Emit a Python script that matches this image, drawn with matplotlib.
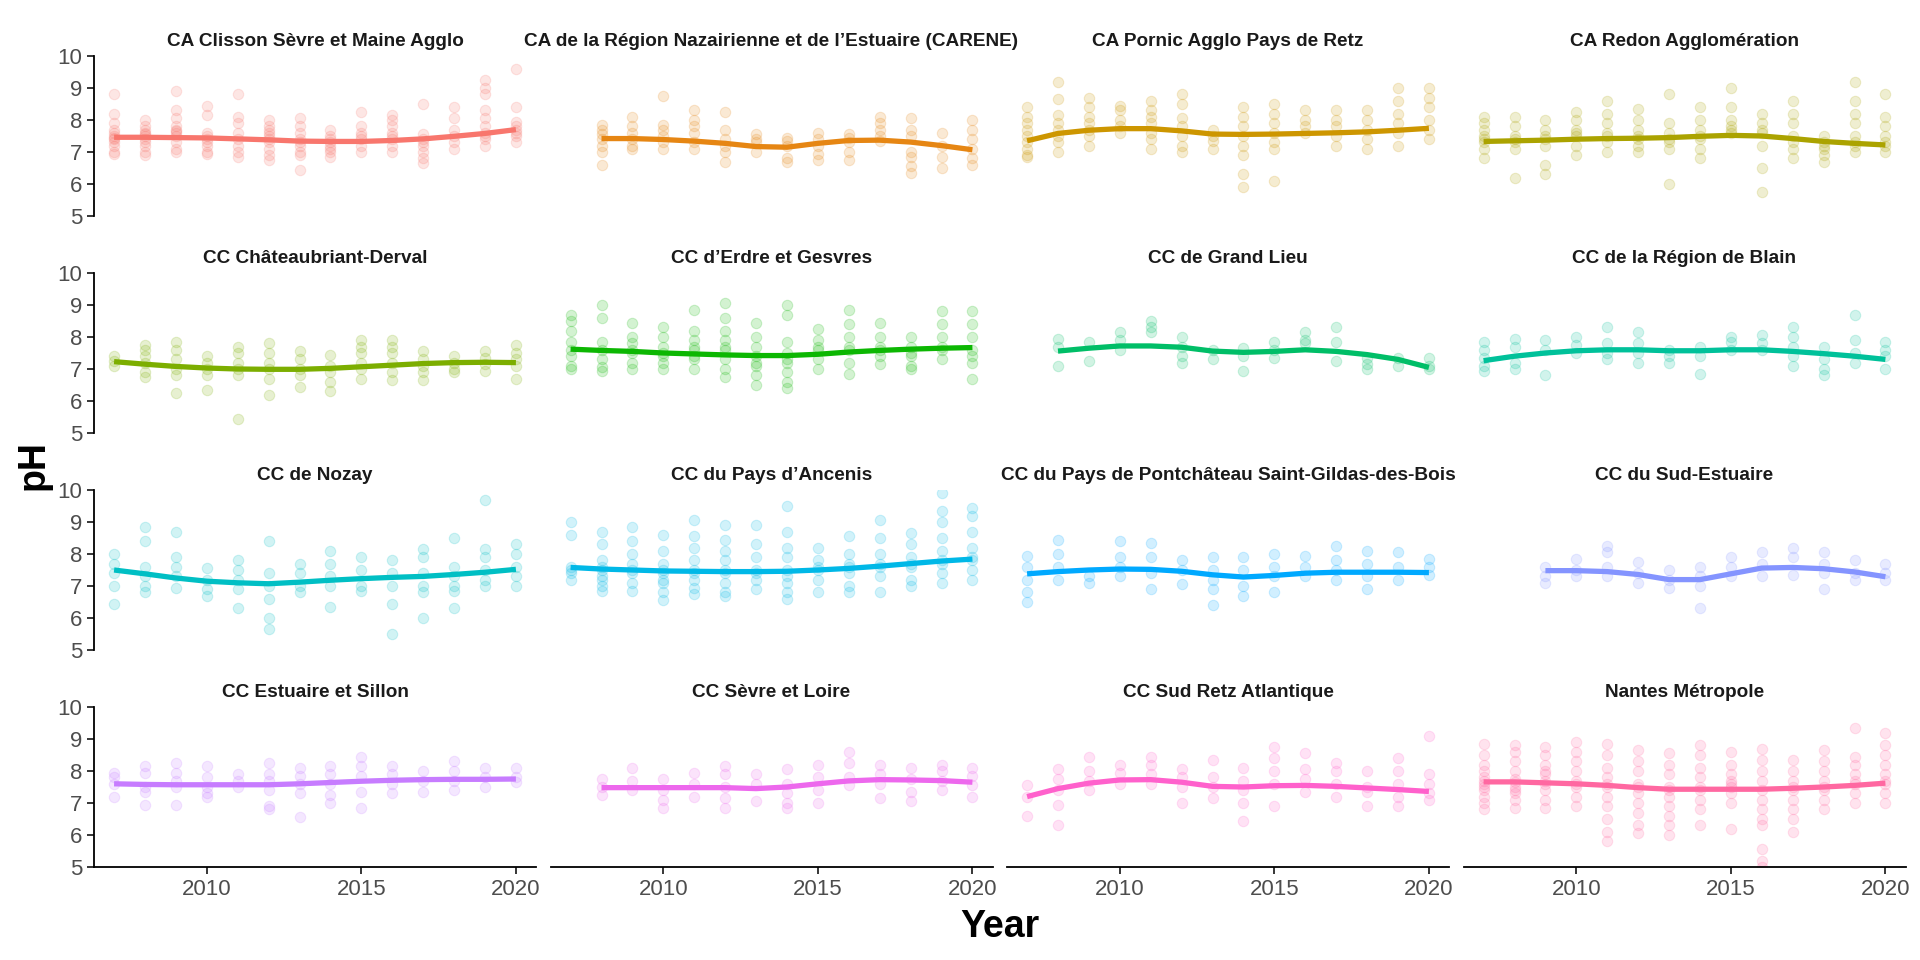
import numpy as np
import matplotlib.pyplot as plt

plt.rcParams['font.family'] = ['Liberation Sans', 'DejaVu Sans']

years = list(range(2007, 2021))
nan = np.nan

names = [
    'CA Clisson Sèvre et Maine Agglo',
    'CA de la Région Nazairienne et de l’Estuaire (CARENE)',
    'CA Pornic Agglo Pays de Retz',
    'CA Redon Agglomération',
    'CC Châteaubriant-Derval',
    'CC d’Erdre et Gesvres',
    'CC de Grand Lieu',
    'CC de la Région de Blain',
    'CC de Nozay',
    'CC du Pays d’Ancenis',
    'CC du Pays de Pontchâteau Saint-Gildas-des-Bois',
    'CC du Sud-Estuaire',
    'CC Estuaire et Sillon',
    'CC Sèvre et Loire',
    'CC Sud Retz Atlantique',
    'Nantes Métropole',
]

# individual pH measurements, one list per year 2007..2020
ph_clisson = [
    [8.8, 8.2, 7.9, 7.7, 7.6, 7.5, 7.45, 7.4, 7.3, 7.2, 7.0, 6.95],
    [8.0, 7.8, 7.7, 7.6, 7.55, 7.5, 7.4, 7.3, 7.2, 7.0, 6.9],
    [8.9, 8.3, 8.05, 7.8, 7.7, 7.65, 7.6, 7.5, 7.3, 7.1, 7.0],
    [8.45, 8.15, 7.6, 7.5, 7.4, 7.3, 7.2, 7.0, 6.95],
    [8.8, 8.1, 7.9, 7.6, 7.4, 7.2, 7.0, 6.85],
    [8.0, 7.8, 7.7, 7.6, 7.5, 7.4, 7.3, 7.1, 6.9, 6.75],
    [8.05, 7.8, 7.6, 7.4, 7.3, 7.2, 7.0, 6.9, 6.45],
    [7.7, 7.5, 7.4, 7.3, 7.2, 7.1, 7.0, 6.85],
    [8.25, 7.8, 7.6, 7.5, 7.4, 7.2, 7.0],
    [8.15, 8.0, 7.8, 7.6, 7.5, 7.4, 7.2, 7.0],
    [8.5, 7.55, 7.4, 7.3, 7.2, 7.0, 6.8, 6.65],
    [8.4, 8.05, 7.7, 7.5, 7.3, 7.1],
    [9.25, 9.0, 8.8, 8.3, 8.05, 7.8, 7.6, 7.5, 7.4, 7.2],
    [9.6, 8.4, 7.95, 7.8, 7.7, 7.6, 7.5, 7.3],
]
ph_carene = [
    [],
    [7.85, 7.7, 7.55, 7.4, 7.2, 7.0, 6.6],
    [8.1, 7.8, 7.6, 7.4, 7.2, 7.1],
    [8.75, 7.85, 7.7, 7.5, 7.3, 7.1],
    [8.3, 8.0, 7.8, 7.6, 7.3, 7.1],
    [8.25, 7.7, 7.4, 7.2, 7.0, 6.7],
    [7.55, 7.4, 7.3, 7.0],
    [7.45, 7.35, 7.2, 6.8, 6.7],
    [7.6, 7.4, 7.2, 6.95, 6.75],
    [7.55, 7.45, 7.3, 7.0, 6.75],
    [8.1, 7.9, 7.7, 7.5, 7.35],
    [8.05, 7.7, 7.5, 7.0, 6.85, 6.55, 6.35],
    [7.6, 7.2, 6.85, 6.5],
    [8.0, 7.7, 7.4, 7.1, 6.8, 6.6],
]
ph_pornic = [
    [8.4, 8.1, 7.9, 7.7, 7.5, 7.3, 7.1, 6.9, 6.85],
    [9.2, 8.65, 8.15, 7.9, 7.7, 7.5, 7.3, 7.0],
    [8.7, 8.4, 8.1, 7.9, 7.7, 7.5, 7.2],
    [8.45, 8.3, 8.0, 7.8, 7.6],
    [8.6, 8.3, 8.1, 7.9, 7.6, 7.4, 7.1],
    [8.8, 8.5, 8.05, 7.8, 7.5, 7.2, 7.0],
    [7.7, 7.5, 7.35, 7.1],
    [8.4, 8.1, 7.8, 7.5, 7.2, 6.9, 6.3, 5.9],
    [8.5, 8.2, 7.9, 7.6, 7.3, 7.1, 6.1],
    [8.3, 8.0, 7.8, 7.6],
    [8.3, 8.0, 7.8, 7.5, 7.2],
    [8.3, 8.0, 7.7, 7.4, 7.1],
    [9.0, 8.6, 8.2, 7.9, 7.6, 7.2],
    [9.0, 8.7, 8.4, 8.0, 7.7, 7.4],
]
ph_redon = [
    [8.1, 7.9, 7.7, 7.5, 7.4, 7.3, 7.1, 6.8],
    [8.1, 7.8, 7.5, 7.4, 7.3, 7.1, 6.2],
    [8.0, 7.7, 7.5, 7.4, 7.2, 6.6, 6.3],
    [8.25, 8.0, 7.7, 7.6, 7.5, 7.2, 6.9],
    [8.6, 8.2, 7.9, 7.6, 7.5, 7.3, 7.0],
    [8.35, 8.0, 7.7, 7.5, 7.4, 7.2, 7.0],
    [8.8, 7.9, 7.6, 7.4, 7.3, 7.1, 6.0],
    [8.4, 8.0, 7.7, 7.5, 7.4, 7.1, 6.8],
    [9.0, 8.4, 8.0, 7.8, 7.7, 7.6],
    [8.2, 7.9, 7.7, 7.6, 7.2, 6.5, 5.75],
    [8.6, 8.2, 7.9, 7.5, 7.3, 7.1, 6.8],
    [7.5, 7.3, 7.2, 7.1, 6.9, 6.7],
    [9.2, 8.6, 8.2, 7.9, 7.5, 7.3, 7.2, 7.0],
    [8.8, 8.1, 7.8, 7.5, 7.3, 7.2, 7.0],
]
ph_chateaubriant = [
    [7.4, 7.25, 7.1],
    [7.75, 7.6, 7.4, 7.2, 6.9, 6.75],
    [7.85, 7.6, 7.3, 7.0, 6.8, 6.25],
    [7.4, 7.2, 7.0, 6.8, 6.35],
    [7.7, 7.5, 7.2, 7.0, 6.8, 5.45],
    [7.8, 7.5, 7.2, 7.0, 6.7, 6.2],
    [7.55, 7.3, 7.0, 6.8, 6.45],
    [7.45, 7.1, 6.9, 6.6, 6.3],
    [7.9, 7.7, 7.5, 7.2, 7.0, 6.7],
    [7.9, 7.7, 7.5, 7.2, 6.9, 6.65],
    [7.55, 7.3, 7.1, 6.9, 6.65],
    [7.4, 7.2, 7.0, 6.9],
    [7.55, 7.35, 7.15, 6.95],
    [7.75, 7.5, 7.3, 7.1, 6.7],
]
ph_erdre = [
    [8.7, 8.5, 8.2, 7.85, 7.6, 7.4, 7.1, 7.0],
    [9.0, 8.6, 7.85, 7.6, 7.3, 7.05, 6.95],
    [8.45, 8.0, 7.8, 7.6, 7.5, 7.2, 7.0],
    [8.3, 8.0, 7.7, 7.5, 7.4, 7.2, 7.0],
    [8.85, 8.2, 7.9, 7.7, 7.6, 7.4, 7.3, 7.0],
    [9.05, 8.6, 8.2, 7.9, 7.7, 7.6, 7.3, 7.0, 6.75],
    [8.45, 8.0, 7.7, 7.4, 7.2, 7.1, 6.8, 6.5],
    [9.0, 8.7, 7.85, 7.5, 7.3, 7.2, 6.9, 6.6, 6.4],
    [8.25, 7.9, 7.7, 7.6, 7.3, 7.0],
    [8.85, 8.4, 8.0, 7.7, 7.6, 7.2, 6.85],
    [8.45, 8.0, 7.7, 7.6, 7.4, 7.15],
    [8.0, 7.7, 7.5, 7.4, 7.1, 7.0],
    [8.8, 8.4, 8.0, 7.7, 7.6, 7.3],
    [8.8, 8.4, 8.0, 7.6, 7.4, 7.2, 6.7],
]
ph_grandlieu = [
    [],
    [7.95, 7.7, 7.1],
    [7.85, 7.25],
    [8.15, 7.9, 7.6],
    [8.5, 8.3, 8.15],
    [8.0, 7.7, 7.4, 7.2],
    [7.6, 7.3],
    [7.65, 7.4, 6.95],
    [7.85, 7.6, 7.35],
    [8.15, 7.9, 7.8],
    [8.3, 7.85, 7.25],
    [7.35, 7.15, 7.0],
    [7.35, 7.1],
    [7.35, 7.1, 7.0],
]
ph_blain = [
    [7.85, 7.6, 7.35, 7.1, 6.95],
    [7.95, 7.7, 7.2, 7.0],
    [7.9, 7.6, 6.8],
    [8.0, 7.75, 7.5],
    [8.3, 7.8, 7.5, 7.3],
    [8.15, 7.8, 7.5, 7.2],
    [7.6, 7.4, 7.2],
    [7.7, 7.4, 6.85],
    [8.0, 7.85, 7.6],
    [8.05, 7.8, 7.6],
    [8.3, 8.0, 7.7, 7.4, 7.1],
    [7.7, 7.3, 7.0, 6.8],
    [8.7, 7.9, 7.5, 7.2],
    [7.85, 7.6, 7.4, 7.0],
]
ph_nozay = [
    [8.0, 7.7, 7.4, 7.0, 6.45],
    [8.85, 8.4, 7.6, 7.3, 7.0, 6.8],
    [8.7, 7.9, 7.6, 7.3, 6.95],
    [7.55, 7.2, 6.9, 6.7],
    [7.8, 7.5, 7.2, 6.9, 6.3],
    [8.4, 7.4, 7.0, 6.6, 6.0, 5.65],
    [7.7, 7.4, 7.0, 6.8],
    [8.1, 7.7, 7.3, 7.0, 6.35],
    [7.9, 7.5, 7.0, 6.85],
    [7.8, 7.4, 7.0, 6.45, 5.5],
    [8.15, 7.9, 7.4, 7.0, 6.8, 6.0],
    [8.5, 7.6, 7.3, 7.0, 6.85, 6.3],
    [9.7, 8.15, 7.9, 7.5, 7.2, 7.0],
    [8.3, 8.0, 7.6, 7.3, 7.0],
]
ph_ancenis = [
    [9.0, 8.6, 7.6, 7.5, 7.4, 7.2],
    [8.7, 8.3, 7.8, 7.6, 7.5, 7.3, 7.2, 7.0, 6.85],
    [8.85, 8.4, 8.0, 7.7, 7.5, 7.4, 7.1, 6.85],
    [8.6, 8.1, 7.7, 7.5, 7.4, 7.2, 7.1, 6.8, 6.55],
    [9.05, 8.55, 8.2, 7.8, 7.5, 7.4, 7.2, 6.95, 6.75],
    [8.9, 8.45, 8.1, 7.8, 7.5, 7.4, 7.1, 6.8, 6.7],
    [8.9, 8.3, 7.9, 7.5, 7.4, 7.2, 6.9],
    [9.5, 8.7, 8.2, 7.9, 7.5, 7.3, 7.1, 6.8, 6.6],
    [8.2, 7.8, 7.6, 7.5, 7.2, 6.8],
    [8.55, 8.0, 7.7, 7.6, 7.4, 7.0, 6.8],
    [9.05, 8.5, 8.0, 7.7, 7.6, 7.3, 6.8],
    [8.65, 8.3, 7.9, 7.7, 7.6, 7.2, 7.0],
    [9.9, 9.35, 9.0, 8.5, 8.1, 7.8, 7.7, 7.4, 7.1],
    [9.45, 9.2, 8.7, 8.2, 7.9, 7.8, 7.5, 7.2],
]
ph_pontchateau = [
    [7.95, 7.6, 7.2, 6.8, 6.5],
    [8.45, 8.0, 7.6, 7.2],
    [7.3, 7.1],
    [8.4, 7.9, 7.6, 7.3],
    [8.35, 7.9, 7.4, 6.9],
    [7.8, 7.5, 7.05],
    [7.9, 7.5, 7.2, 6.9, 6.4],
    [7.9, 7.5, 7.0, 6.7],
    [8.0, 7.6, 7.3, 6.8],
    [7.95, 7.6, 7.3],
    [8.25, 7.8, 7.5, 7.2],
    [8.1, 7.7, 7.3, 6.9],
    [8.05, 7.6, 7.2],
    [7.85, 7.6, 7.35],
]
ph_sudestuaire = [
    [],
    [],
    [7.6, 7.3, 7.1],
    [7.85, 7.5, 7.3],
    [8.25, 8.05, 7.6, 7.3],
    [7.75, 7.4, 7.1],
    [7.5, 7.2, 6.95],
    [7.6, 7.3, 7.0, 6.3],
    [7.9, 7.6, 7.3],
    [8.05, 7.7, 7.3],
    [8.2, 7.9, 7.35],
    [8.05, 7.7, 7.4, 6.9],
    [7.8, 7.4, 7.2],
    [7.7, 7.4, 7.2],
]
ph_sillon = [
    [7.95, 7.8, 7.6, 7.2],
    [8.15, 7.95, 7.5, 7.35, 6.95],
    [8.25, 7.95, 7.7, 7.5, 6.95],
    [8.15, 7.8, 7.5, 7.3, 7.2],
    [7.9, 7.7, 7.5],
    [8.25, 7.9, 7.7, 7.4, 6.9, 6.8],
    [8.1, 7.85, 7.6, 7.3, 6.55],
    [8.15, 7.9, 7.6, 7.25, 7.0],
    [8.45, 8.15, 7.85, 7.35, 6.85],
    [8.15, 7.9, 7.6, 7.3],
    [8.0, 7.7, 7.35],
    [8.3, 8.0, 7.7, 7.4],
    [8.1, 7.8, 7.5],
    [8.1, 7.8, 7.65],
]
ph_sevreloire = [
    [],
    [7.75, 7.5, 7.25],
    [8.1, 7.7, 7.4],
    [7.75, 7.4, 7.1, 6.85],
    [7.95, 7.6, 7.2],
    [8.15, 7.9, 7.5, 7.15, 6.85],
    [7.9, 7.6, 7.05],
    [8.05, 7.6, 7.3, 7.0, 6.85],
    [8.2, 7.8, 7.4, 7.0],
    [8.6, 8.25, 7.8, 7.55],
    [8.2, 7.9, 7.6, 7.15],
    [8.1, 7.75, 7.35, 7.05],
    [8.2, 8.0, 7.7, 7.4],
    [8.1, 7.85, 7.55, 7.2],
]
ph_sudretz = [
    [7.55, 7.2, 6.6],
    [8.05, 7.75, 7.4, 6.95, 6.3],
    [8.45, 8.0, 7.7, 7.4],
    [8.2, 7.95, 7.6],
    [8.45, 8.2, 7.9, 7.6],
    [8.05, 7.8, 7.5, 7.0],
    [8.35, 7.8, 7.5, 7.15],
    [8.1, 7.7, 7.4, 7.0, 6.45],
    [8.75, 8.4, 8.0, 7.6, 6.9],
    [8.55, 8.05, 7.75, 7.35],
    [8.25, 8.0, 7.6, 7.2],
    [8.0, 7.5, 7.35, 6.9],
    [8.4, 8.0, 7.6, 7.2, 6.9],
    [9.1, 7.9, 7.6, 7.3, 7.1],
]
ph_nantes = [
    [8.85, 8.5, 8.2, 8.0, 7.8, 7.7, 7.6, 7.5, 7.4, 7.2, 7.0, 6.8],
    [8.8, 8.6, 8.3, 8.0, 7.75, 7.65, 7.5, 7.4, 7.3, 7.1, 6.85],
    [8.75, 8.5, 8.2, 8.0, 7.9, 7.7, 7.6, 7.4, 7.1, 6.85],
    [8.9, 8.6, 8.3, 8.0, 7.7, 7.6, 7.5, 7.2, 6.9],
    [8.85, 8.5, 8.1, 7.8, 7.6, 7.5, 7.2, 6.9, 6.5, 6.1, 5.8],
    [8.65, 8.3, 8.0, 7.6, 7.5, 7.3, 7.0, 6.7, 6.3, 6.05],
    [8.55, 8.2, 7.9, 7.5, 7.4, 7.2, 6.9, 6.6, 6.3, 6.0],
    [8.8, 8.5, 8.1, 7.8, 7.5, 7.4, 7.1, 6.8, 6.3],
    [8.6, 8.2, 7.9, 7.7, 7.6, 7.5, 7.3, 7.0, 6.2],
    [8.7, 8.35, 8.0, 7.7, 7.4, 7.1, 6.8, 6.5, 6.3, 5.55, 5.2, 5.0],
    [8.35, 8.0, 7.7, 7.5, 7.4, 7.1, 6.8, 6.5, 6.1],
    [8.65, 8.3, 8.0, 7.7, 7.5, 7.4, 7.1, 6.8],
    [9.35, 8.45, 8.2, 7.9, 7.7, 7.6, 7.3, 7.0],
    [9.2, 8.8, 8.5, 8.2, 7.9, 7.7, 7.6, 7.3, 7.0],
]

# smoothed trend per year 2007..2020
smooth_clisson = [7.46, 7.46, 7.45, 7.44, 7.41, 7.38, 7.34, 7.33, 7.33, 7.36, 7.41, 7.49, 7.58, 7.70]
smooth_carene = [nan, 7.42, 7.42, 7.39, 7.34, 7.27, 7.17, 7.15, 7.27, 7.36, 7.37, 7.31, 7.20, 7.07]
smooth_pornic = [7.35, 7.58, 7.68, 7.73, 7.73, 7.66, 7.56, 7.55, 7.56, 7.58, 7.60, 7.63, 7.68, 7.74]
smooth_redon = [7.33, 7.35, 7.37, 7.40, 7.42, 7.43, 7.45, 7.49, 7.52, 7.50, 7.42, 7.33, 7.27, 7.22]
smooth_chateaubriant = [7.23, 7.15, 7.08, 7.03, 7.00, 6.99, 6.99, 7.02, 7.07, 7.12, 7.17, 7.20, 7.21, 7.20]
smooth_erdre = [7.62, 7.58, 7.55, 7.50, 7.47, 7.44, 7.42, 7.42, 7.46, 7.53, 7.58, 7.62, 7.65, 7.67]
smooth_grandlieu = [nan, 7.56, 7.65, 7.72, 7.72, 7.68, 7.56, 7.52, 7.55, 7.60, 7.55, 7.45, 7.30, 7.05]
smooth_blain = [7.26, 7.40, 7.50, 7.57, 7.60, 7.60, 7.57, 7.57, 7.60, 7.60, 7.55, 7.48, 7.40, 7.30]
smooth_nozay = [7.50, 7.38, 7.25, 7.15, 7.10, 7.07, 7.12, 7.18, 7.23, 7.27, 7.30, 7.36, 7.43, 7.52]
smooth_ancenis = [7.58, 7.53, 7.50, 7.47, 7.46, 7.45, 7.45, 7.46, 7.50, 7.55, 7.62, 7.70, 7.78, 7.84]
smooth_pontchateau = [7.38, 7.45, 7.50, 7.53, 7.52, 7.46, 7.35, 7.28, 7.33, 7.40, 7.43, 7.43, 7.43, 7.42]
smooth_sudestuaire = [nan, nan, 7.48, 7.48, 7.45, 7.36, 7.20, 7.20, 7.38, 7.56, 7.58, 7.54, 7.44, 7.29]
smooth_sillon = [7.60, 7.58, 7.57, 7.57, 7.57, 7.57, 7.60, 7.64, 7.68, 7.71, 7.73, 7.74, 7.74, 7.75]
smooth_sevreloire = [nan, 7.48, 7.48, 7.48, 7.48, 7.48, 7.45, 7.50, 7.60, 7.69, 7.73, 7.72, 7.70, 7.65]
smooth_sudretz = [7.20, 7.45, 7.62, 7.72, 7.73, 7.65, 7.52, 7.50, 7.54, 7.55, 7.52, 7.47, 7.42, 7.36]
smooth_nantes = [7.66, 7.66, 7.63, 7.60, 7.55, 7.48, 7.43, 7.43, 7.43, 7.43, 7.46, 7.50, 7.55, 7.62]

points = [ph_clisson, ph_carene, ph_pornic, ph_redon, ph_chateaubriant, ph_erdre,
          ph_grandlieu, ph_blain, ph_nozay, ph_ancenis, ph_pontchateau, ph_sudestuaire,
          ph_sillon, ph_sevreloire, ph_sudretz, ph_nantes]
smooths = [smooth_clisson, smooth_carene, smooth_pornic, smooth_redon, smooth_chateaubriant,
           smooth_erdre, smooth_grandlieu, smooth_blain, smooth_nozay, smooth_ancenis,
           smooth_pontchateau, smooth_sudestuaire, smooth_sillon, smooth_sevreloire,
           smooth_sudretz, smooth_nantes]


def hcl_hex(h, c=100.0, l=65.0):
    # ggplot2 default hue palette (polar LUV -> sRGB)
    h = np.deg2rad(h)
    u, v = c * np.cos(h), c * np.sin(h)
    xn, yn, zn = 95.047, 100.0, 108.883
    y = yn * ((l + 16) / 116) ** 3
    den = xn + 15 * yn + 3 * zn
    up = u / (13 * l) + 4 * xn / den
    vp = v / (13 * l) + 9 * yn / den
    x = 9 * y * up / (4 * vp)
    z = -x / 3 - 5 * y + 3 * y / vp
    x, y, z = x / 100, y / 100, z / 100
    rgb = np.array([3.240479 * x - 1.537150 * y - 0.498535 * z,
                    -0.969256 * x + 1.875992 * y + 0.041556 * z,
                    0.055648 * x - 0.204043 * y + 1.057311 * z])
    rgb = np.where(rgb > 0.00304, 1.055 * np.abs(rgb) ** (1 / 2.4) - 0.055, 12.92 * rgb)
    rgb = np.clip(rgb, 0, 1)
    return '#%02x%02x%02x' % tuple(int(round(k * 255)) for k in rgb)


n = len(names)
hues = np.linspace(15, 375, n + 1)[:-1]
colors = [hcl_hex(hh) for hh in hues]

fig = plt.figure(figsize=(19.2, 9.6), dpi=100)
W, H = 1920, 960
left0, colstep, pw = 94, 456.5, 442
top0, rowstep, ph_ = 56, 217, 160

for i in range(n):
    r, c = divmod(i, 4)
    x0 = left0 + c * colstep
    y0 = top0 + r * rowstep
    ax = fig.add_axes([x0 / W, 1 - (y0 + ph_) / H, pw / W, ph_ / H])
    col = colors[i]
    for yr, vals in zip(years, points[i]):
        if vals:
            ax.plot([yr] * len(vals), vals, 'o', color=col, ms=7.5, alpha=0.18,
                    mec=col, mew=0.8, ls='none')
    ax.plot(years, smooths[i], color=col, lw=3.8, solid_capstyle='butt')
    ax.set_xlim(2006.35, 2020.65)
    ax.set_ylim(5, 10)
    ax.set_title(names[i], fontsize=13.7, fontweight='bold', pad=7, color='#1a1a1a')
    for s in ['top', 'right']:
        ax.spines[s].set_visible(False)
    ax.spines['left'].set_visible(c == 0)
    ax.spines['bottom'].set_visible(r == 3)
    for s in ['left', 'bottom']:
        ax.spines[s].set_linewidth(1.3)
    ax.set_xticks([2010, 2015, 2020])
    ax.set_yticks([5, 6, 7, 8, 9, 10])
    ax.tick_params(axis='both', labelsize=16, labelcolor='#4d4d4d', length=5, width=1.1)
    ax.tick_params(axis='x', bottom=(r == 3), labelbottom=(r == 3))
    ax.tick_params(axis='y', left=(c == 0), labelleft=(c == 0))

fig.text(1000 / W, 1 - 927 / H, 'Year', ha='center', va='center',
         fontsize=27, fontweight='bold')
fig.text(34 / W, 1 - 465 / H, 'pH', ha='center', va='center', rotation=90,
         fontsize=27, fontweight='bold')

fig.savefig('out.png', dpi=100)
